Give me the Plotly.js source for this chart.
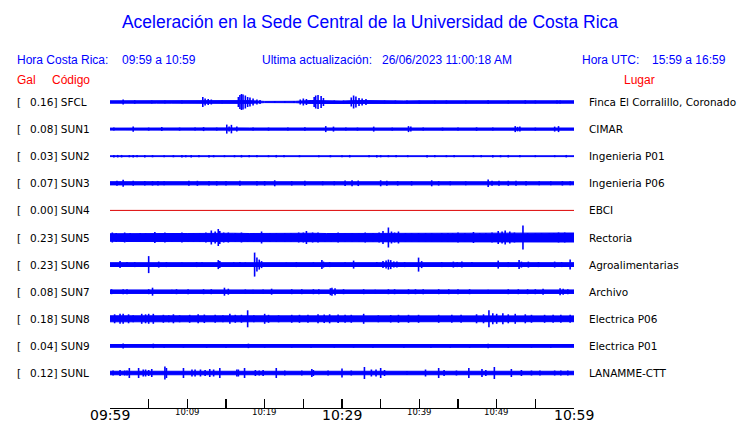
<!DOCTYPE html>
<html><head><meta charset="utf-8">
<script src="https://cdn.plot.ly/plotly-3.0.1.min.js"></script>
<style>html,body{margin:0;padding:0;background:#fff}#chart{width:740px;height:423px}</style>
</head><body><div id="chart"></div>
<script>
// ---- data ----
const codes  = ['SFCL','SUN1','SUN2','SUN3','SUN4','SUN5','SUN6','SUN7','SUN8','SUN9','SUNL'];
const peakGal = [0.16, 0.08, 0.03, 0.07, 0.00, 0.23, 0.23, 0.08, 0.18, 0.04, 0.12];
const places = ['Finca El Corralillo, Coronado','CIMAR','Ingenieria P01','Ingenieria P06','EBCI',
                'Rectoria','Agroalimentarias','Archivo','Electrica P06','Electrica P01','LANAMME-CTT'];
const tickMinutes = [0,5,10,15,20,25,30,35,40,45,50,55,60];
const tickLabels  = ['09:59','','10:09','','10:19','','10:29','','10:39','','10:49','','10:59'];
const majorLabels = ['09:59','10:29','10:59'];

// background envelope (half amplitude, Gal) every 2 minutes, minute 0..60
const baseMinutes = [0,2,4,6,8,10,12,14,16,18,20,22,24,26,28,30,32,34,36,38,40,42,44,46,48,50,52,54,56,58,60];
const baseSFCL = [.024,.026,.024,.024,.024,.024,.028,.024,.03,.028,.012,.01,.014,.03,.018,.02,.03,.024,.024,.022,.024,.024,.022,.024,.024,.024,.024,.024,.024,.024,.024];
const baseSUN1 = [.02,.022,.022,.022,.022,.022,.022,.022,.024,.022,.022,.022,.022,.022,.022,.022,.022,.022,.022,.022,.022,.022,.022,.022,.022,.022,.022,.022,.022,.022,.022];
const baseSUN2 = [.008,.008,.008,.008,.008,.008,.008,.008,.008,.008,.008,.008,.008,.008,.008,.008,.008,.008,.008,.008,.008,.008,.008,.008,.008,.008,.008,.008,.008,.008,.008];
const baseSUN3 = [.032,.032,.03,.03,.03,.03,.03,.03,.03,.03,.03,.03,.03,.03,.03,.03,.032,.03,.03,.03,.03,.03,.03,.03,.032,.032,.03,.03,.03,.03,.03];
const baseSUN4 = [0,0,0,0,0,0,0,0,0,0,0,0,0,0,0,0,0,0,0,0,0,0,0,0,0,0,0,0,0,0,0];
const baseSUN5 = [.075,.08,.08,.085,.08,.08,.085,.095,.085,.08,.085,.08,.08,.085,.08,.08,.085,.085,.09,.08,.085,.085,.08,.085,.085,.08,.09,.095,.085,.09,.09];
const baseSUN6 = [.038,.038,.038,.038,.038,.038,.038,.038,.038,.038,.038,.038,.038,.038,.038,.038,.038,.038,.04,.038,.038,.038,.038,.038,.038,.038,.038,.038,.038,.038,.038];
const baseSUN7 = [.035,.035,.035,.035,.035,.035,.035,.035,.035,.035,.035,.035,.035,.035,.035,.035,.035,.035,.035,.035,.035,.035,.035,.035,.035,.035,.035,.035,.035,.035,.035];
const baseSUN8 = [.06,.06,.058,.058,.058,.056,.058,.058,.056,.056,.056,.056,.058,.058,.058,.056,.056,.056,.056,.056,.056,.056,.056,.058,.06,.06,.058,.058,.058,.058,.058];
const baseSUN9 = [.028,.028,.028,.028,.028,.028,.028,.028,.028,.028,.028,.028,.028,.028,.028,.028,.028,.028,.028,.028,.028,.028,.028,.028,.028,.028,.028,.028,.028,.028,.028];
const baseSUNL = [.035,.035,.035,.035,.035,.035,.035,.035,.035,.035,.035,.035,.035,.035,.035,.035,.035,.035,.035,.035,.035,.035,.035,.035,.035,.035,.035,.035,.035,.035,.035];

// transient peaks [minute, half amplitude in Gal]
const spikesSFCL = [[1.7,.05],[3.2,.035],[5.4,.03],[7.1,.03],[9.3,.03],[12.0,.1],[12.3,.07],[12.7,.06],[13.1,.05],[14.5,.03],[16.6,.1],[16.8,.14],[17.0,.16],[17.2,.15],[17.5,.13],[17.8,.1],[18.1,.09],[18.5,.07],[19.0,.05],[19.4,.04],[21.3,.02],[22.6,.02],[23.8,.02],[24.6,.05],[25.0,.07],[25.4,.06],[26.4,.1],[26.6,.13],[26.9,.14],[27.3,.12],[27.6,.08],[29.0,.03],[30.2,.03],[31.2,.09],[31.5,.13],[31.8,.11],[32.2,.08],[32.6,.07],[33.1,.06],[35.5,.03],[36.9,.03],[38.4,.03],[40.0,.03],[42.0,.03],[43.5,.03],[46.0,.03],[48.9,.035],[51.5,.03],[53.7,.035],[55.0,.03],[57.8,.03],[58.2,.03]];
const spikesSUN1 = [[0.5,.03],[3.0,.053],[5.0,.03],[6.7,.04],[9.0,.03],[11.0,.03],[12.1,.04],[13.8,.03],[15.1,.09],[15.4,.05],[15.7,.085],[16.4,.05],[18.5,.03],[20.5,.03],[23.0,.03],[25.2,.035],[27.9,.06],[28.9,.05],[30.5,.03],[32.0,.03],[34.1,.05],[36.5,.03],[38.6,.06],[38.9,.05],[40.5,.03],[43.0,.03],[45.0,.03],[47.4,.035],[49.5,.03],[52.4,.06],[52.7,.045],[53.0,.05],[55.0,.03],[57.5,.05],[58.0,.06]];
const spikesSUN2 = [[0.5,.025],[1.0,.025],[1.5,.025],[2.5,.022],[3.0,.025],[3.5,.022],[4.5,.025],[5.5,.022],[7.0,.02],[8.2,.022],[9.3,.025],[9.8,.022],[10.5,.025],[11.5,.022],[12.8,.025],[13.4,.022],[14.8,.02],[16.1,.022],[17.0,.025],[18.0,.022],[19.0,.022],[20.5,.02],[21.5,.025],[22.5,.022],[24.5,.02],[27.0,.02],[28.5,.022],[30.0,.02],[31.0,.025],[33.5,.022],[34.5,.025],[35.0,.022],[36.0,.02],[37.0,.022],[38.5,.02],[41.0,.025],[42.0,.022],[43.5,.02],[44.5,.022],[47.0,.02],[48.0,.022],[49.5,.025],[50.5,.022],[51.5,.025],[53.0,.022],[55.0,.02],[57.5,.02],[59.0,.025]];
const spikesSUN3 = [[0.9,.05],[1.7,.07],[3.0,.05],[4.5,.045],[5.5,.045],[6.2,.045],[7.0,.04],[10.2,.05],[11.3,.05],[12.8,.045],[13.8,.045],[15.0,.045],[16.8,.05],[19.0,.045],[20.0,.045],[21.3,.06],[23.5,.045],[25.2,.05],[27.5,.04],[29.0,.04],[30.4,.055],[31.3,.06],[32.1,.055],[35.0,.06],[35.8,.05],[37.2,.045],[39.0,.045],[41.6,.06],[42.5,.045],[44.0,.04],[46.0,.04],[48.9,.075],[49.4,.05],[50.3,.05],[51.5,.05],[52.5,.05],[53.8,.045],[55.5,.04],[57.0,.04],[58.5,.045],[59.5,.04]];
const spikesSUN4 = [];
const spikesSUN5 = [[0.3,.1],[0.8,.09],[1.9,.1],[2.6,.09],[3.9,.09],[4.6,.085],[5.8,.11],[6.4,.09],[7.1,.1],[8.0,.09],[9.3,.1],[10.1,.085],[10.8,.09],[11.6,.09],[12.4,.1],[13.1,.14],[13.6,.12],[14.0,.17],[14.2,.13],[14.7,.1],[15.3,.1],[16.2,.09],[17.0,.1],[17.8,.09],[18.6,.085],[19.6,.12],[20.7,.09],[21.5,.09],[22.6,.09],[23.4,.085],[24.4,.1],[25.0,.1],[25.4,.13],[26.2,.1],[26.9,.1],[27.8,.09],[28.6,.09],[29.5,.1],[30.4,.09],[31.3,.09],[32.2,.085],[33.0,.1],[34.0,.09],[34.8,.1],[35.3,.13],[36.0,.2],[36.4,.12],[36.8,.1],[37.3,.12],[38.2,.09],[39.0,.085],[39.9,.09],[40.8,.09],[41.6,.085],[42.9,.09],[43.7,.09],[44.3,.085],[45.0,.1],[45.9,.09],[47.0,.11],[47.8,.09],[48.6,.09],[49.4,.1],[50.2,.13],[50.7,.12],[51.1,.14],[51.7,.12],[52.3,.1],[53.4,.24],[54.0,.09],[55.0,.085],[55.8,.09],[56.8,.09],[57.4,.09],[58.0,.1],[58.8,.1],[59.6,.09]];
const spikesSUN6 = [[1.3,.07],[2.2,.05],[3.2,.05],[5.0,.17],[6.3,.06],[7.3,.05],[9.3,.04],[11.2,.05],[11.9,.045],[14.0,.09],[14.2,.07],[16.0,.045],[16.8,.05],[17.5,.045],[18.7,.24],[19.0,.14],[19.3,.1],[19.6,.07],[22.8,.04],[24.1,.05],[26.3,.045],[27.4,.09],[27.6,.06],[28.4,.05],[30.4,.045],[31.5,.08],[34.5,.05],[35.3,.07],[35.7,.08],[36.0,.1],[36.3,.09],[36.7,.06],[37.1,.06],[38.1,.05],[39.9,.14],[40.3,.07],[42.9,.05],[44.4,.06],[44.9,.05],[45.5,.06],[46.8,.05],[50.2,.08],[51.5,.05],[52.9,.09],[53.2,.06],[54.1,.06],[55.4,.05],[57.5,.06],[58.4,.05],[59.5,.1]];
const spikesSUN7 = [[0.2,.05],[1.7,.05],[2.2,.05],[5.0,.05],[5.5,.08],[8.0,.04],[8.6,.05],[10.1,.05],[12.1,.05],[13.1,.05],[14.8,.08],[15.3,.06],[17.5,.045],[18.5,.04],[19.8,.045],[20.9,.06],[23.5,.05],[24.8,.05],[26.3,.05],[27.0,.05],[28.5,.07],[28.7,.08],[29.1,.07],[30.2,.05],[32.8,.05],[34.3,.04],[36.0,.05],[36.8,.05],[38.6,.05],[39.5,.05],[40.5,.05],[42.5,.05],[43.8,.05],[45.0,.05],[46.5,.05],[48.9,.04],[51.5,.05],[52.8,.05],[54.0,.05],[55.0,.05],[56.0,.06],[58.2,.07],[58.6,.06],[59.2,.05]];
const spikesSUN8 = [[0.6,.09],[1.3,.1],[1.7,.1],[2.4,.09],[3.0,.07],[4.1,.1],[4.6,.09],[5.0,.1],[5.6,.1],[6.9,.08],[7.6,.07],[8.2,.09],[9.0,.07],[10.3,.08],[11.4,.09],[12.2,.085],[13.6,.08],[14.6,.07],[15.5,.1],[16.2,.08],[17.0,.08],[17.8,.17],[18.6,.07],[20.0,.1],[20.5,.08],[21.8,.07],[23.5,.08],[24.5,.08],[25.6,.08],[26.9,.09],[27.7,.085],[28.4,.09],[29.5,.085],[30.4,.08],[31.2,.08],[32.8,.1],[34.7,.07],[36.3,.075],[37.3,.08],[38.6,.08],[39.9,.08],[42.5,.08],[44.2,.08],[45.4,.08],[47.4,.09],[48.3,.09],[49.0,.17],[49.5,.11],[50.0,.1],[50.8,.11],[51.5,.09],[52.4,.1],[53.7,.09],[54.5,.08],[56.2,.08],[57.3,.08],[58.3,.08],[59.5,.08]];
const spikesSUN9 = [[1.7,.05],[5.6,.045],[7.0,.035],[9.5,.035],[12.5,.035],[15.0,.035],[17.9,.045],[20.0,.035],[23.5,.035],[26.0,.035],[29.0,.035],[31.5,.035],[34.0,.035],[38.0,.035],[41.5,.035],[44.0,.035],[46.5,.035],[48.9,.045],[51.5,.035],[54.5,.035],[57.0,.035]];
const spikesSUNL = [[0.4,.05],[1.3,.06],[1.9,.05],[2.2,.05],[2.5,.1],[3.7,.1],[4.3,.07],[4.6,.07],[5.0,.06],[5.4,.08],[7.1,.13],[7.3,.1],[9.5,.1],[10.6,.07],[11.0,.07],[11.7,.07],[12.3,.06],[12.9,.08],[13.4,.07],[14.2,.1],[16.4,.07],[16.6,.07],[17.4,.1],[18.8,.06],[19.3,.05],[19.8,.06],[21.5,.1],[22.6,.05],[24.8,.05],[26.1,.08],[26.3,.06],[28.2,.05],[30.0,.09],[31.2,.05],[32.9,.12],[33.8,.07],[34.4,.07],[35.0,.1],[35.5,.06],[38.4,.04],[40.8,.07],[42.5,.1],[43.2,.06],[44.8,.05],[46.4,.1],[48.1,.08],[48.6,.06],[49.7,.12],[51.9,.08],[53.2,.06],[54.5,.05],[55.6,.05],[57.5,.05],[58.3,.05],[59.2,.05]];

// ---- drawing ----
const bases  = [baseSFCL,baseSUN1,baseSUN2,baseSUN3,baseSUN4,baseSUN5,baseSUN6,baseSUN7,baseSUN8,baseSUN9,baseSUNL];
const spikes = [spikesSFCL,spikesSUN1,spikesSUN2,spikesSUN3,spikesSUN4,spikesSUN5,spikesSUN6,spikesSUN7,spikesSUN8,spikesSUN9,spikesSUNL];

const BLUE = '#0000ff', RED = '#ff0000';
const X0 = 110, X1 = 574, YT = 88, YB = 408;
const ROW = 0.542;                    // vertical spacing between stations (Gal units)
const px = p => (p - X0) / (X1 - X0);
const py = p => (YB - p) / (YB - YT);

const traces = [];
codes.forEach((code, i) => {
  const cy = -i * ROW;
  const b = bases[i];
  if (peakGal[i] === 0) {
    traces.push({x: baseMinutes, y: b.map(v => cy + v), mode: 'lines',
                 line: {color: '#dd0000', width: 1}, hoverinfo: 'skip'});
    return;
  }
  const xs = baseMinutes.concat(baseMinutes.slice().reverse());
  const ys = b.map(v => cy + v).concat(b.slice().reverse().map(v => cy - v));
  traces.push({x: xs, y: ys, mode: 'lines', fill: 'toself', fillcolor: BLUE,
               line: {color: BLUE, width: 1}, hoverinfo: 'skip'});
  const sx = [], sy = [];
  spikes[i].forEach(([t, a]) => { sx.push(t, t, null); sy.push(cy + a, cy - a, null); });
  traces.push({x: sx, y: sy, mode: 'lines', line: {color: BLUE, width: 1.6}, hoverinfo: 'skip'});
});

const ann = [];
const rowFont = {family: 'DejaVu Sans', size: 10.5, color: '#000'};
codes.forEach((code, i) => {
  const cy = -i * ROW;
  ann.push({xref: 'paper', yref: 'y', x: px(15), y: cy, text: '[', showarrow: false,
            xanchor: 'left', yanchor: 'middle', font: rowFont});
  ann.push({xref: 'paper', yref: 'y', x: px(28), y: cy, text: peakGal[i].toFixed(2) + '] ' + code,
            showarrow: false, xanchor: 'left', yanchor: 'middle', font: rowFont});
  ann.push({xref: 'paper', yref: 'y', x: px(587), y: cy, text: places[i], showarrow: false,
            xanchor: 'left', yanchor: 'middle', font: rowFont});
});
const hdrFont = {family: 'Liberation Sans, Arial', size: 12, color: BLUE};
const redFont = {family: 'Liberation Sans, Arial', size: 12, color: RED};
[[15, 'Hora Costa Rica:'], [120, '09:59 a 10:59'], [260, 'Ultima actualización:'],
 [380, '26/06/2023 11:00:18 AM'], [580, 'Hora UTC:'], [650, '15:59 a 16:59']].forEach(([x, t]) => {
  ann.push({xref: 'paper', yref: 'paper', x: px(x), y: py(60), text: t, showarrow: false,
            xanchor: 'left', yanchor: 'middle', font: hdrFont});
});
[[15, 'Gal'], [50, 'Código'], [622, 'Lugar']].forEach(([x, t]) => {
  ann.push({xref: 'paper', yref: 'paper', x: px(x), y: py(80), text: t, showarrow: false,
            xanchor: 'left', yanchor: 'middle', font: redFont});
});
// time labels under the axis
tickLabels.forEach((t, k) => {
  if (!t) return;
  const major = majorLabels.includes(t);
  ann.push({xref: 'x', yref: 'paper', x: tickMinutes[k], y: py(major ? 415 : 412), text: t,
            showarrow: false, xanchor: 'center', yanchor: 'middle',
            font: {family: 'DejaVu Sans', size: major ? 14 : 8.5, color: '#000'}});
});

const layout = {
  width: 740, height: 423,
  margin: {l: X0, r: 740 - X1, t: YT, b: 423 - YB, pad: 0},
  paper_bgcolor: '#fff', plot_bgcolor: '#fff', showlegend: false,
  title: {text: 'Aceleración en la Sede Central de la Universidad de Costa Rica',
          font: {family: 'Liberation Sans, Arial', size: 17.5, color: BLUE},
          xref: 'container', x: 0.5, xanchor: 'center', yref: 'container', y: 1 - 22 / 423, yanchor: 'middle'},
  xaxis: {range: [0, 60], showgrid: false, zeroline: false, showline: true, linecolor: '#000', linewidth: 1.3,
          ticks: 'inside', ticklen: 9, tickwidth: 1.3, tickcolor: '#000',
          tickmode: 'array', tickvals: tickMinutes, showticklabels: false, fixedrange: true},
  yaxis: {range: [0.28 - 6.4, 0.28], visible: false, fixedrange: true},
  annotations: ann
};
Plotly.newPlot('chart', traces, layout, {staticPlot: true, displayModeBar: false});
</script>
</body></html>
